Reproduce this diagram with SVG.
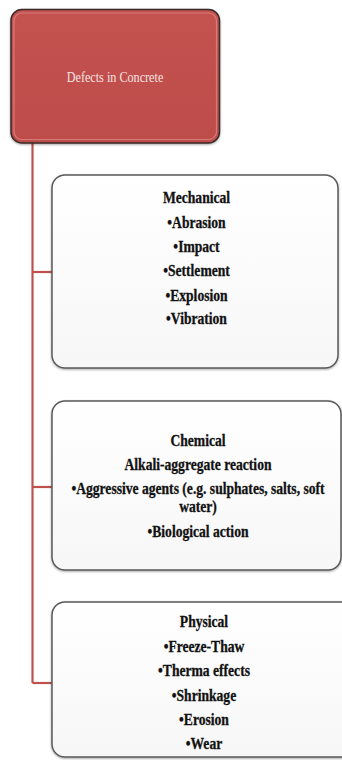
<svg xmlns="http://www.w3.org/2000/svg" width="342" height="760" viewBox="0 0 342 760">
  <defs>
    <linearGradient id="redFill" x1="0" y1="0" x2="0" y2="1">
      <stop offset="0" stop-color="#c4524f"/>
      <stop offset="1" stop-color="#bd4d4a"/>
    </linearGradient>
    <linearGradient id="boxFill" x1="0" y1="0" x2="0" y2="1">
      <stop offset="0" stop-color="#ffffff"/>
      <stop offset="1" stop-color="#f7f7f7"/>
    </linearGradient>
    <filter id="shadow" x="-5%" y="-5%" width="110%" height="115%">
      <feDropShadow dx="0" dy="1" stdDeviation="0.8" flood-color="#000" flood-opacity="0.35"/>
    </filter>
    <style>
      .box { fill: url(#boxFill); stroke: #5a5a5a; stroke-width: 1.5; filter: url(#shadow); }
      .root { fill: url(#redFill); stroke: #3a2a2a; stroke-width: 1.5; filter: url(#shadow); }
      .rootInner { fill: none; stroke: #e08e8c; stroke-width: 1.2; opacity: 0.7; }
      .link { fill: none; stroke: #c0504d; stroke-width: 2.2; }
      .t { font-family: "Liberation Serif", "Times New Roman", serif; font-weight: bold; font-size: 16px; fill: #111; stroke: #111; stroke-width: 0.3; text-anchor: middle; }
      .rt { font-family: "Liberation Serif", "Times New Roman", serif; font-size: 14.5px; fill: #f6e4e3; text-anchor: middle; }
    </style>
  </defs>

  <rect width="342" height="760" fill="#ffffff"/>

  <!-- connectors from the root to each category -->
  <g id="connectors">
    <path class="link" d="M32.5,143 V683"/>
    <path class="link" d="M32.5,272 H52"/>
    <path class="link" d="M32.5,487 H52"/>
    <path class="link" d="M32.5,683 H52"/>
  </g>

  <!-- root node -->
  <g id="node-root">
    <rect class="root" x="11" y="9.5" width="208.5" height="133.5" rx="11"/>
    <rect class="rootInner" x="14" y="13" width="202.5" height="126.5" rx="8"/>
    <text class="rt" transform="translate(115,82) scale(0.84,1)">Defects in Concrete</text>
  </g>

  <!-- mechanical causes -->
  <g id="node-mechanical">
    <rect class="box" x="52" y="175" width="286" height="193" rx="13"/>
    <g transform="translate(196.5,0) scale(0.85,1)">
      <text class="t" x="0" y="203.5">Mechanical</text>
      <text class="t" x="0" y="228">•Abrasion</text>
      <text class="t" x="0" y="252">•Impact</text>
      <text class="t" x="0" y="276">•Settlement</text>
      <text class="t" x="0" y="301">•Explosion</text>
      <text class="t" x="0" y="324.5">•Vibration</text>
    </g>
  </g>

  <!-- chemical causes -->
  <g id="node-chemical">
    <rect class="box" x="52" y="401" width="289" height="169" rx="13"/>
    <g transform="translate(198,0) scale(0.85,1)">
      <text class="t" x="0" y="446">Chemical</text>
      <text class="t" x="0" y="470">Alkali-aggregate reaction</text>
      <text class="t" x="0" y="494">•Aggressive agents (e.g.  sulphates, salts, soft</text>
      <text class="t" x="0" y="512.5">water)</text>
      <text class="t" x="0" y="537">•Biological action</text>
    </g>
  </g>

  <!-- physical causes -->
  <g id="node-physical">
    <rect class="box" x="52" y="602" width="306" height="155" rx="13"/>
    <g transform="translate(204,0) scale(0.85,1)">
      <text class="t" x="0" y="627">Physical</text>
      <text class="t" x="0" y="652">•Freeze-Thaw</text>
      <text class="t" x="0" y="676">•Therma effects</text>
      <text class="t" x="0" y="701">•Shrinkage</text>
      <text class="t" x="0" y="725">•Erosion</text>
      <text class="t" x="0" y="749">•Wear</text>
    </g>
  </g>
</svg>
